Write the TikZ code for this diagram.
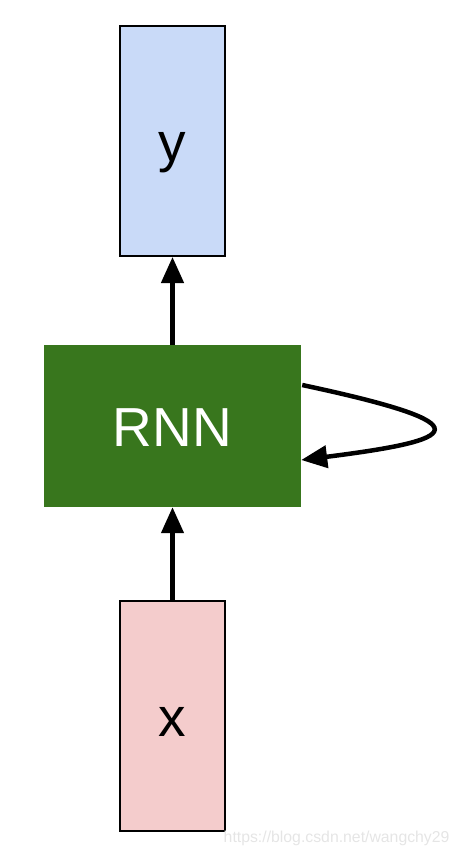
\documentclass[tikz,border=0pt]{standalone}
\usepackage{fontspec}
\setmainfont{Liberation Sans}
\usetikzlibrary{arrows.meta}
\definecolor{ybox}{HTML}{C9DAF8}
\definecolor{xbox}{HTML}{F4CCCC}
\definecolor{rnnc}{HTML}{38761D}
\begin{document}
\begin{tikzpicture}[x=1pt,y=-1pt,
  bigtext/.style={font=\fontsize{55}{55}\selectfont,text height=40pt,text depth=0pt},
  vecbox/.style={draw=black,line width=2pt,minimum width=105pt,minimum height=230pt,inner sep=0pt,bigtext},
  conn/.style={line width=4.5pt,-{Triangle[length=26pt,width=22pt]}}]
\useasboundingbox (0,0) rectangle (459,857);
\node[vecbox,fill=ybox] (y) at (172.5,141) {y};
\node[fill=rnnc,minimum width=257pt,minimum height=162pt,inner sep=0pt,text=white,bigtext] (rnn) at (172.5,426) {RNN};
\node[vecbox,fill=xbox] (x) at (172.5,716) {x};
\draw[conn] (rnn.north) -- (y.south);
\draw[conn] (x.north) -- (rnn.south);
\coordinate (ls) at ([yshift=41pt,xshift=1pt]rnn.east);
\coordinate (le) at ([yshift=-34pt]rnn.east);
\draw[conn] (ls) .. controls (490,425) and (460,440) .. (le);
\node[text=black!10,font=\fontsize{15.8}{16}\selectfont,anchor=east] (wm) at (453,838) {https://blog.csdn.net/wangchy29};
\end{tikzpicture}
\end{document}
